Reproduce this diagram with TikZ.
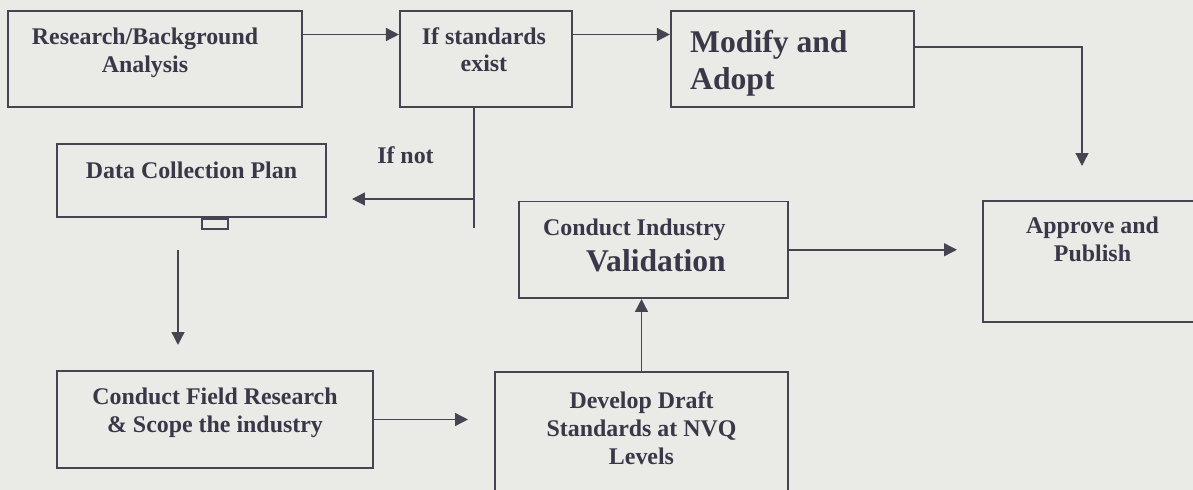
\documentclass[tikz,border=0pt]{standalone}
\usepackage{fontspec}
\setmainfont{Liberation Serif}
\usetikzlibrary{positioning,arrows.meta,calc}
\definecolor{inkc}{RGB}{58,56,72}
\definecolor{linec}{RGB}{70,68,82}
\definecolor{paperc}{RGB}{234,234,231}

\begin{document}
\begin{tikzpicture}[
  font=\bfseries\fontsize{17}{19.7}\selectfont,
  text=inkc,
  box/.style={draw=linec, line width=1.4pt, inner sep=0pt},
  tab/.style={draw=linec, line width=1.2pt, minimum width=6.5mm,
              minimum height=2.5mm, inner sep=0pt},
  toptext/.style={anchor=north, align=center, inner sep=0pt},
  bigfont/.style={font=\bfseries\fontsize{22.5}{26.3}\selectfont},
  arr/.style={-{Triangle[length=3.25mm,width=3.2mm]}, draw=linec, line width=1.4pt},
  line/.style={draw=linec, line width=1.4pt}
]
\fill[paperc] (0,0) rectangle (298.25mm,-122.5mm);
\useasboundingbox (0,0) rectangle (298.25mm,-122.5mm);

% top row
\node[box, minimum width=73.5mm, minimum height=24mm,
      label={[toptext, xshift=-2.5mm, yshift=-4.5mm]north:Research/Background\\ Analysis}]
  (research) at (38.75mm,-14.75mm) {};
\node[box, minimum width=43mm, minimum height=24mm, right=24mm of research,
      label={[toptext, xshift=-0.5mm, yshift=-4.25mm]north:If standards\\ exist}]
  (standards) {};
\node[box, minimum width=60.75mm, minimum height=24mm, right=24.25mm of standards,
      label={[toptext, bigfont, anchor=north west, align=left,
              xshift=5mm, yshift=-5mm]north west:Modify and\\ Adopt}]
  (modify) {};
\node[box, minimum width=54.75mm, minimum height=30.25mm,
      label={[toptext, yshift=-4.25mm]north:Approve and\\ Publish}]
  (approve) at (273.125mm,-65.375mm) {};

% left column
\node[box, minimum width=67.25mm, minimum height=18.25mm,
      label={[toptext, yshift=-4.75mm]north:Data Collection Plan}]
  (datacoll) at (47.875mm,-45.125mm) {};
\node[tab, below=0mm of datacoll, xshift=5.875mm] (tab) {};
\node[box, minimum width=79mm, minimum height=24.25mm,
      label={[toptext, yshift=-4.5mm]north:Conduct Field Research\\ \& Scope the industry}]
  (field) at (53.75mm,-104.875mm) {};

% middle
\node[box, minimum width=67.25mm, minimum height=24.125mm,
      label={[toptext, anchor=north east, align=right, xshift=-15.75mm,
              yshift=-4.5mm]north east:{Conduct Industry\\[5.9pt]
              {\fontsize{22.5}{26.3}\selectfont Validation}}}]
  (validation) at (163.375mm,-62.4375mm) {};
\node[box, anchor=north, minimum width=73.25mm, minimum height=33.5mm,
      label={[toptext, yshift=-5.2mm]north:Develop Draft\\ Standards at NVQ\\ Levels}]
  (draft) at (160.375mm,-92.75mm) {};

% branch points
\coordinate (split) at ([xshift=-3mm]standards.south);
\coordinate (splitend) at ([yshift=-30mm]split);
\coordinate (branch) at ([yshift=-22.75mm]split);
\coordinate (branchend) at ($(datacoll.east |- branch)+(6.25mm,0)$);
\coordinate (planout) at ([xshift=-3.375mm,yshift=-8mm]datacoll.south);

\node[inner sep=0pt, above left=8.75mm and 10mm of branch] (ifnot) {If not};

\draw[arr] ([yshift=6.125mm]research.east) -- ([yshift=6.125mm]standards.west);
\draw[arr] ([yshift=6.125mm]standards.east) -- ([yshift=6.125mm]modify.west);
\draw[arr] ([yshift=3mm]modify.east) -| ([xshift=-2.625mm,yshift=8.5mm]approve.north);
\draw[line] (split) -- (splitend);
\draw[arr] (branch) -- (branchend);
\draw[arr] (planout) -- ($(planout |- field.north)+(0,6.25mm)$);
\draw[arr] (field.east) -- ($(field.east -| draft.west)+(-6.5mm,0)$);
\draw[arr] (draft.north) -- (draft.north |- validation.south);
\draw[arr] (validation.east) -- ($(validation.east -| approve.west)+(-6.25mm,0)$);
\end{tikzpicture}
\end{document}
